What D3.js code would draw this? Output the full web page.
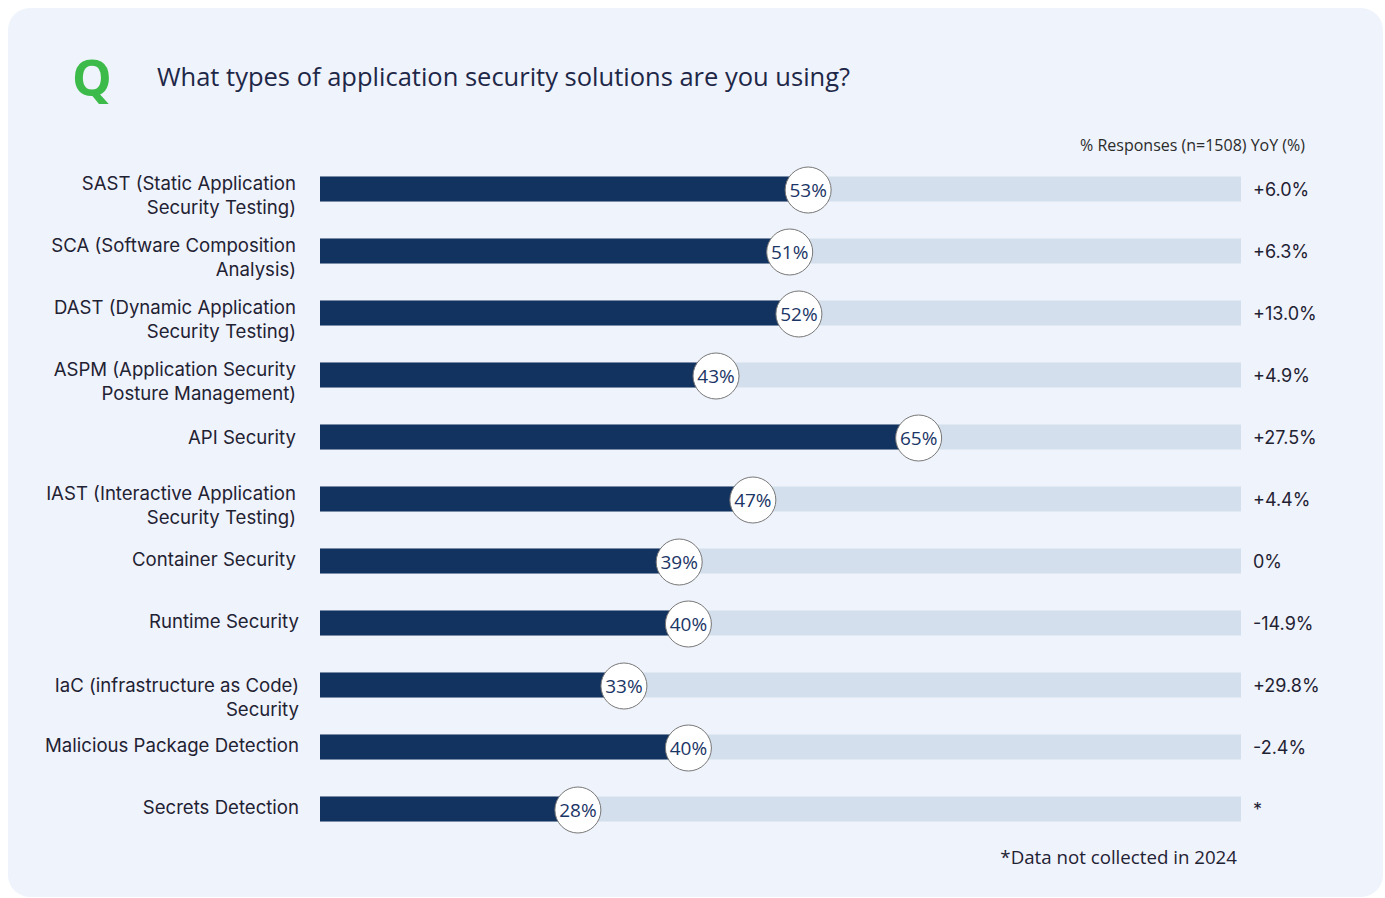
<!DOCTYPE html>
<html>
<head>
<meta charset="utf-8">
<script src="https://cdn.jsdelivr.net/npm/d3@7"></script>
<style>
  html, body { margin: 0; padding: 0; background: #ffffff; }
  svg { display: block; }
</style>
</head>
<body>
<svg id="chart" width="1385" height="898"></svg>
<script>
// Survey data
const categories = [
  ["SAST (Static Application", "Security Testing)"],
  ["SCA (Software Composition", "Analysis)"],
  ["DAST (Dynamic Application", "Security Testing)"],
  ["ASPM (Application Security", "Posture Management)"],
  ["API Security"],
  ["IAST (Interactive Application", "Security Testing)"],
  ["Container Security"],
  ["Runtime Security"],
  ["IaC (infrastructure as Code)", "Security"],
  ["Malicious Package Detection"],
  ["Secrets Detection"]
];
const responses = [53, 51, 52, 43, 65, 47, 39, 40, 33, 40, 28];
const yoyLabels = ["+6.0%", "+6.3%", "+13.0%", "+4.9%", "+27.5%", "+4.4%", "0%", "-14.9%", "+29.8%", "-2.4%", "*"];

const title = "What types of application security solutions are you using?";
const header = "% Responses (n=1508) YoY (%)";
const footnote = "*Data not collected in 2024";

const svg = d3.select("#chart");

// Card background
svg.append("rect")
  .attr("x", 8).attr("y", 8)
  .attr("width", 1375).attr("height", 889)
  .attr("rx", 22)
  .attr("fill", "#eff3fb");

// Heading
svg.append("text")
  .attr("x", 72).attr("y", 96)
  .attr("font-family", "'Open Sans', sans-serif")
  .attr("font-weight", 700)
  .attr("font-size", 50)
  .attr("fill", "#3dbb4a")
  .text("Q");

svg.append("text")
  .attr("x", 157).attr("y", 86)
  .attr("font-family", "'Open Sans', sans-serif")
  .attr("font-size", 25.5)
  .attr("fill", "#1e2748")
  .text(title);

svg.append("text")
  .attr("x", 1305).attr("y", 151)
  .attr("text-anchor", "end")
  .attr("font-family", "'Open Sans', sans-serif")
  .attr("font-size", 16)
  .attr("fill", "#2b2b2b")
  .text(header);

// Scales
const x = d3.scaleLinear().domain([0, 100]).range([320, 1241]);
const y = d3.scaleBand()
  .domain(d3.range(categories.length))
  .range([158, 840])
  .paddingInner(0.6)
  .paddingOuter(0.3);

const barH = 25;

const rows = svg.append("g")
  .selectAll("g")
  .data(categories.map((c, i) => ({ label: c, value: responses[i], yoy: yoyLabels[i], i })))
  .join("g")
  .attr("transform", d => `translate(0, ${y(d.i) + y.bandwidth() / 2})`);

// Track (100%)
rows.append("rect")
  .attr("x", x(0))
  .attr("y", -barH / 2)
  .attr("width", x(100) - x(0))
  .attr("height", barH)
  .attr("fill", "#d3dfec");

// Value bar
rows.append("rect")
  .attr("x", x(0))
  .attr("y", -barH / 2)
  .attr("width", d => x(d.value) - x(0))
  .attr("height", barH)
  .attr("fill", "#12325f");

// Value bubble
rows.append("circle")
  .attr("cx", d => x(d.value))
  .attr("cy", 1)
  .attr("r", 23)
  .attr("fill", "#ffffff")
  .attr("stroke", "#777777")
  .attr("stroke-width", 1);

rows.append("text")
  .attr("x", d => x(d.value))
  .attr("y", 8)
  .attr("text-anchor", "middle")
  .attr("font-family", "'Open Sans', sans-serif")
  .attr("font-size", 19)
  .attr("fill", "#1b3566")
  .text(d => d.value + "%");

// Category labels (right-aligned, wrapped onto two lines where needed)
const wideRows = new Set([7, 8, 9, 10]);
const firstLineShift = { 4: 2, 8: 6 };
rows.append("text")
  .attr("text-anchor", "end")
  .attr("font-family", "Inter, sans-serif")
  .attr("font-size", 18.6)
  .attr("fill", "#1f2233")
  .each(function (d) {
    const t = d3.select(this);
    const xr = wideRows.has(d.i) ? 299 : 296;
    const base = (d.label.length > 1 ? 1 : 5) + (firstLineShift[d.i] || 0);
    d.label.forEach((line, k) => {
      t.append("tspan")
        .attr("x", xr)
        .attr("y", base + k * 24)
        .text(line);
    });
  });

// YoY change
rows.append("text")
  .attr("x", 1253)
  .attr("y", 7)
  .attr("font-family", "Inter, sans-serif")
  .attr("font-size", 18)
  .attr("fill", "#1f2233")
  .text(d => d.yoy);

// Footnote
svg.append("text")
  .attr("x", 1237).attr("y", 864)
  .attr("text-anchor", "end")
  .attr("font-family", "'Open Sans', sans-serif")
  .attr("font-size", 18.7)
  .attr("fill", "#1f2233")
  .text(footnote);
</script>
</body>
</html>
